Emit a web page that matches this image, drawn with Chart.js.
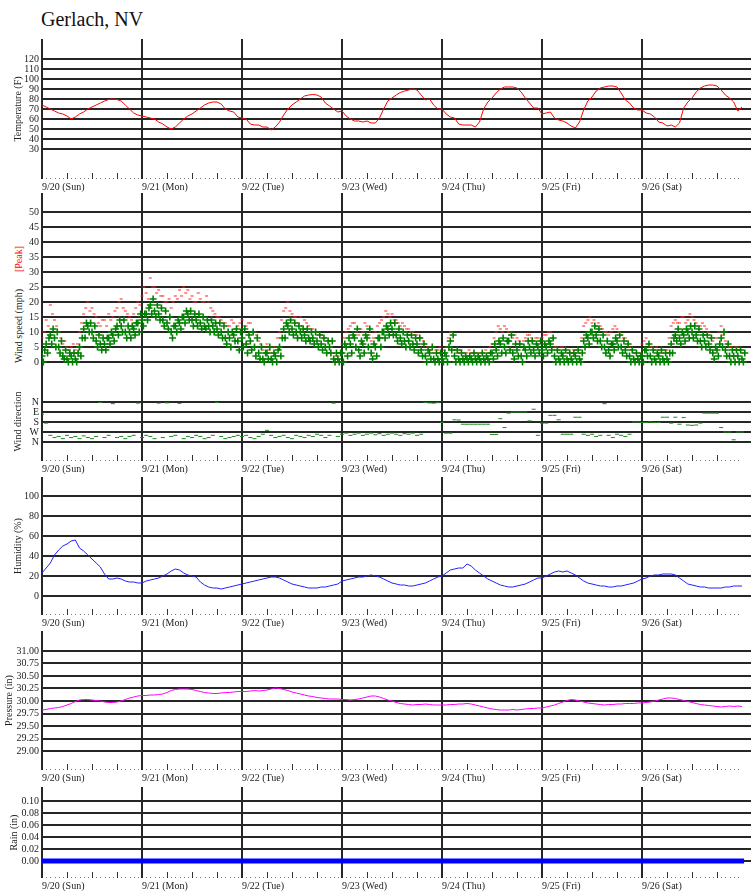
<!DOCTYPE html>
<html><head><meta charset="utf-8">
<script src="https://cdn.jsdelivr.net/npm/chart.js@4/dist/chart.umd.min.js"></script>
<style>
html,body{margin:0;padding:0;background:#fff;}
body{width:751px;height:895px;position:relative;overflow:hidden;font-family:'Liberation Serif','Times New Roman',serif;}
canvas{position:absolute;left:0;}
.title{position:absolute;left:41px;top:9px;font-size:20px;color:#111;line-height:20px;white-space:nowrap;}
.vlab{position:absolute;font-size:10px;white-space:nowrap;transform:translate(-50%,-50%) rotate(-90deg);line-height:12px;color:#222;}
</style></head><body>
<div class="title">Gerlach, NV</div>
<div class="vlab" style="left:19px;top:326px">Wind speed (mph)</div>
<div class="vlab" style="left:19px;top:259px;color:#f00">[Peak]</div>
<canvas id="cTemp"></canvas>
<canvas id="cWind"></canvas>
<canvas id="cDir"></canvas>
<canvas id="cHum"></canvas>
<canvas id="cPres"></canvas>
<canvas id="cRain"></canvas>
<script>
// ---------- data (hourly from 9/20 00:00) ----------
const dayLabels = ['9/20 (Sun)','9/21 (Mon)','9/22 (Tue)','9/23 (Wed)','9/24 (Thu)','9/25 (Fri)','9/26 (Sat)'];
const dayTicks = [0,24,48,72,96,120,144];

const temperature = [
 74,72,70,68,66,65,63,60,62,65,67,70,72,74,76,78,79.5,80,79.5,78,74,70,66,64,
 63,62,61,60,57,55,52,50,52,56,60,63,65,68,71,74,76,77,77,75,70,68,67,62,
 61,60,55,54,54,52,52,49,52,57,64,70,74,77,80,83,84,84.5,84,82,76,73,70,67,
 68,63,60,58,58,57,58,56,56,61,70,78,81,84,86.5,88,89,90,89,84,79,80,74,70,
 70,65,62,61,55,54,54,54,52,57,70,77,81,86,90,92,92,92,91,87,81,76,71,71,
 65,66,67,61,59,58,56,53,51,57,69,78,82,88,91,92,93,93,92,86,79,76,71,69,
 69,66,65,62,57,56,53,54,52,56,71,77,81,87,91,93,94,94,93,89,84,81,77,68,72
];
// sustained wind: hourly reading, plus lowest / highest reading seen within each hour
const windSustained = [
 2,6,9,8,5,2,1,2,1,5,11,12,10,7,6,6,8,9,12,12,10,10,11,13,
 14,16,19,17,16,14,13,10,12,13,15,16,14,14,13,12,12,12,11,10,8,8,9,7,
 8,6,7,5,3,1,3,1,2,5,11,12,11,10,10,9,8,8,7,6,5,5,1,1,
 3,5,6,8,4,6,8,3,5,8,10,11,11,9,8,7,7,6,6,4,2,3,1,1,
 1,2,7,2,1,1,1,1,1,1,1,1,3,4,6,5,7,3,4,2,4,5,4,5,
 4,5,6,2,1,2,1,1,2,1,7,8,10,9,7,5,4,6,7,5,4,2,1,1,
 2,4,2,1,2,1,1,6,9,8,9,10,10,9,7,7,6,3,4,8,4,2,2,2,1
];
const windLow = [
 0,3,6,5,3,1,0,0,0,2,8,10,8,5,4,4,6,7,9,10,8,8,9,10,
 12,14,16,15,14,12,11,8,10,11,13,14,12,12,11,11,10,10,9,8,6,5,7,4,
 5,3,4,2,1,0,1,0,0,2,8,10,9,8,8,7,7,6,5,4,3,3,0,0,
 0,2,3,5,2,3,5,1,2,5,8,9,9,7,6,5,5,4,3,2,0,1,0,0,
 0,0,4,0,0,0,0,0,0,0,0,0,1,2,3,3,4,1,2,0,2,3,2,3,
 2,3,4,0,0,0,0,0,0,0,5,6,8,7,5,3,2,4,5,3,2,0,0,0,
 0,2,0,0,0,0,0,3,7,6,7,8,8,7,5,5,4,1,2,5,2,0,0,0,0
];
const windHigh = [
 4,8,11,10,7,4,3,3,3,8,13,13,12,9,8,8,10,11,14,14,12,12,13,16,
 16,18,21,19,18,17,15,12,14,15,17,17,16,16,15,14,14,13,13,12,10,10,11,10,
 11,9,10,8,5,3,5,3,4,8,13,14,13,12,11,11,10,10,9,8,7,7,3,3,
 6,8,9,11,7,9,11,6,8,10,12,13,13,11,10,9,9,8,8,6,4,5,3,3,
 3,5,9,4,3,2,2,3,2,3,2,3,6,7,8,7,9,6,6,5,7,7,6,7,
 6,7,8,4,3,4,3,3,4,3,9,10,12,11,9,7,6,8,9,7,6,4,3,2,
 4,6,4,3,4,3,3,8,11,10,11,12,12,11,9,9,8,5,6,10,6,4,4,4,3
];
// peak gusts: on the hour and at half past
const windPeak = [
 8,14,19,14,10,6,5,5,4,10,16,20,18,15,12,14,16,15,18,21,17,15,16,20,
 22,23,28,25,24,22,20,18,22,24,25,24,22,20,21,20,20,17,15,14,13,12,13,12,
 14,12,13,10,7,4,6,3,5,10,17,20,16,15,15,14,12,11,10,9,8,7,3,2,
 6,10,12,13,9,10,12,7,10,13,15,16,16,14,12,12,11,10,9,8,6,5,3,4,
 3,5,10,4,3,3,3,3,3,2,3,3,6,10,11,12,10,8,8,6,8,9,7,8,
 8,9,10,5,4,5,3,3,4,3,12,14,13,12,12,10,9,11,11,9,8,5,3,2,
 6,8,5,4,4,3,4,12,14,13,15,14,15,13,12,12,10,7,8,12,7,5,4,5,3
];
const windPeakHalf = [
 10,12,16,12,8,7,4,6,6,13,18,17,16,13,14,12,14,17,20,18,16,14,18,19,
 25,21,25,23,22,20,21,20,21,22,23,21,20,23,20,22,18,16,15,13,12,14,11,13,
 12,13,10,9,6,5,4,5,8,14,18,17,15,13,12,13,11,10,9,8,7,5,2,3,
 8,11,13,10,11,13,9,8,12,14,17,15,14,13,13,11,10,9,8,7,5,4,4,5,
 4,8,7,3,4,3,4,3,3,3,4,5,8,12,10,11,9,9,7,7,9,8,8,7,
 9,10,8,5,5,4,3,4,3,8,13,15,14,13,11,10,10,12,10,8,7,4,3,3,
 7,6,5,5,3,4,8,13,13,15,13,16,14,12,13,11,8,8,10,9,6,5,5,4
];
const windDirection = [
 110,190,300,320,310,330,300,320,310,330,305,320,330,310,5,320,300,15,320,310,330,310,300,10,
 320,300,310,330,10,320,8,310,300,12,330,310,320,300,310,330,320,300,5,310,330,320,310,300,
 310,300,320,330,310,290,255,300,320,310,300,320,330,300,310,320,300,310,290,300,320,300,10,310,
 290,280,300,290,280,300,290,280,295,285,300,290,280,290,300,285,290,280,300,290,5,8,10,6,
 184,280,280,160,162,200,200,200,200,200,200,200,292,292,150,230,100,90,90,90,90,170,65,300,
 190,190,120,120,160,290,290,290,137,137,290,300,290,310,300,15,300,320,290,300,310,290,180,180,
 185,185,180,185,185,137,137,190,137,200,140,207,210,207,190,100,100,100,100,230,270,270,340,270,270
];
const humidity = [
 23,28,33,41,46,50,52,55,56,48,45,41,37,33,29,22,17,17,18,17,15,14,14,13,
 13,15,16,17,18,20,22,25,27,26,23,21,20,19,14,11,9,8,8,7,8,9,10,11,
 12,13,14,15,16,17,18,19,19,18,16,14,12,11,10,9,8,8,8,9,9,10,11,12,
 15,16,17,18,19,19,20,21,20,19,17,15,13,12,11,11,10,10,11,12,13,15,17,19,
 20,23,26,27,28,28,32,30,26,23,20,17,15,13,11,10,9,9,10,11,12,14,16,18,
 18,20,22,24,25,24,25,23,21,18,15,13,12,11,10,10,9,9,10,10,11,12,13,15,
 17,18,20,21,21,22,22,22,21,18,15,12,11,10,9,9,8,8,8,8,9,9,10,10,10
];
const pressure = [
 29.82,29.83,29.85,29.86,29.87,29.89,29.92,29.95,29.99,30.02,30.03,30.03,30.02,30.01,30.00,29.98,29.97,29.97,29.98,30.00,30.03,30.06,30.08,30.10,
 30.11,30.11,30.12,30.12,30.13,30.14,30.17,30.21,30.23,30.24,30.24,30.24,30.23,30.21,30.19,30.17,30.16,30.15,30.15,30.16,30.17,30.17,30.18,30.19,
 30.19,30.19,30.20,30.21,30.20,30.21,30.22,30.24,30.26,30.25,30.23,30.21,30.18,30.16,30.14,30.12,30.10,30.09,30.07,30.06,30.05,30.04,30.04,30.04,
 30.03,30.03,30.02,30.03,30.04,30.06,30.08,30.10,30.10,30.08,30.05,30.02,30.00,29.97,29.95,29.94,29.93,29.92,29.93,29.93,29.94,29.93,29.92,29.92,
 29.92,29.92,29.93,29.93,29.94,29.94,29.95,29.94,29.92,29.90,29.88,29.86,29.84,29.83,29.82,29.82,29.82,29.83,29.82,29.83,29.84,29.85,29.85,29.86,
 29.86,29.88,29.90,29.92,29.95,29.98,30.01,30.03,30.02,30.00,29.98,29.96,29.95,29.94,29.93,29.92,29.93,29.93,29.94,29.94,29.95,29.95,29.95,29.96,
 29.96,29.97,29.98,30.00,30.02,30.04,30.06,30.06,30.05,30.03,30.01,29.99,29.97,29.95,29.93,29.92,29.91,29.90,29.89,29.88,29.89,29.90,29.89,29.90,29.89
];
const rainHours = [0,24,48,72,96,120,144,168.5];
const rain = [0,0,0,0,0,0,0,0];

// tick label lists
const tempTicks = [30,40,50,60,70,80,90,100,110,120];
const windTicks = [0,5,10,15,20,25,30,35,40,45,50];
const dirTicks = [0,90,180,270,360];
const dirLabels = ['N','E','S','W','N'];
const humTicks = [0,10,20,30,40,50,60,70,80,90,100];
const presTicks = [29.00,29.25,29.50,29.75,30.00,30.25,30.50,30.75,31.00];
const rainTicks = [0,0.02,0.04,0.06,0.08,0.10];

// ---------- drawing ----------
const FONT = "'Liberation Serif','Times New Roman',serif";
const GRID = '#262626';
const TEXT = '#222';
const X_MAX = 170.16;

const hourTicksPlugin = {
  id: 'hourTicks',
  afterDatasetsDraw(chart, args, opts) {
    if (!opts.display) return;
    const xs = chart.scales.x, yb = chart.chartArea.bottom, ctx = chart.ctx;
    ctx.save();
    for (let h = 1; h < 168; h++) {
      if (h % 24 === 0) continue;
      const px = Math.round(xs.getPixelForValue(h));
      if (h % 6 === 0) { ctx.fillStyle = '#333'; ctx.fillRect(px, yb - 6, 1, 6); }
      else { ctx.fillStyle = '#777'; ctx.fillRect(px, yb - 1, 1, 1); }
    }
    ctx.restore();
  }
};

const series = (arr, off) => arr.map((v, i) => ({x: i + (off || 0), y: v}));

function makeChart(id, T, B, showLabels, y, datasets) {
  const PADT = 12, LABH = 16;
  const cv = document.getElementById(id);
  const h = PADT + (B - T) + (showLabels ? LABH : 12);
  cv.width = 751; cv.height = h;
  cv.style.width = '751px'; cv.style.height = h + 'px'; cv.style.top = (T - PADT) + 'px';
  return new Chart(cv, {
    type: 'line',
    data: {datasets},
    options: {
      responsive: false, animation: false, devicePixelRatio: 1,
      layout: {autoPadding: false, padding: {top: PADT, bottom: showLabels ? 0 : 12, left: 0, right: 0}},
      plugins: {legend: {display: false}, tooltip: {enabled: false}, hourTicks: {display: showLabels}},
      scales: {
        x: {
          type: 'linear', min: 0, max: X_MAX,
          afterBuildTicks: s => { s.ticks = dayTicks.map(v => ({value: v})); },
          afterFit: s => { s.height = showLabels ? LABH : 0; },
          grid: {color: GRID, lineWidth: 2, drawTicks: false},
          border: {display: false},
          ticks: {display: showLabels, align: 'start', maxRotation: 0, autoSkip: false, padding: 2,
                  font: {family: FONT, size: 10}, color: TEXT, callback: (v, i) => dayLabels[i]}
        },
        y: {
          type: 'linear', min: y.min, max: y.max, reverse: !!y.reverse,
          afterBuildTicks: s => { s.ticks = y.ticks.map(v => ({value: v})); },
          afterFit: s => { s.width = 42; },
          grid: {color: GRID, lineWidth: 2, drawTicks: false},
          border: {display: false},
          ticks: {padding: 3, font: {family: FONT, size: 10}, color: TEXT, callback: y.fmt},
          title: {display: !!y.title, text: y.title || '', font: {family: FONT, size: 10}, color: TEXT,
                  padding: {top: y.tpad || 0, bottom: 0}}
        }
      }
    },
    plugins: [hourTicksPlugin]
  });
}

const lineDs = (arr, color, w) => ({data: series(arr), borderColor: color, borderWidth: w, pointRadius: 0, fill: false, tension: 0});
const crossDs = (arr, off) => ({data: series(arr, off), showLine: false, pointStyle: 'cross', pointRadius: 3.5, pointBorderWidth: 1.6,
  borderColor: '#008000', pointBorderColor: '#008000', backgroundColor: '#008000', order: 1});
const peakDs = (arr, off) => ({data: series(arr, off), showLine: false, pointStyle: 'line', pointRadius: 1.5, pointBorderWidth: 1,
  borderColor: '#ff2020', pointBorderColor: '#ff2020', order: 2});

makeChart('cTemp', 39, 179, true,
  {min: 0, max: 140, ticks: tempTicks, fmt: v => String(v), title: 'Temperature (F)', tpad: 12},
  [lineDs(temperature, '#ff0000', 1)]);

makeChart('cWind', 193, 382, false,
  {min: -6.667, max: 56.333, ticks: windTicks, fmt: v => String(v)},
  [crossDs(windSustained, 0), crossDs(windLow, 0.33), crossDs(windHigh, 0.67),
   peakDs(windPeak, 0), peakDs(windPeakHalf, 0.5)]);

makeChart('cDir', 382, 461, true,
  {min: -180, max: 531, reverse: true, ticks: dirTicks, fmt: (v, i) => dirLabels[i], title: 'Wind direction', tpad: 12.5},
  [{data: series(windDirection), showLine: false, pointStyle: 'line', pointRadius: 2, pointBorderWidth: 1,
    borderColor: '#1a8c1a', pointBorderColor: '#1a8c1a'}]);

makeChart('cHum', 477, 615, true,
  {min: -19, max: 119, ticks: humTicks, fmt: v => String(v), title: 'Humidity (%)', tpad: 12.5},
  [lineDs(humidity, '#2020ff', 1)]);

makeChart('cPres', 631, 770, true,
  {min: 28.62, max: 31.40, ticks: presTicks, fmt: v => Number(v).toFixed(2), title: 'Pressure (in)', tpad: 3},
  [lineDs(pressure, '#ff00ff', 1)]);

makeChart('cRain', 787, 878, true,
  {min: -0.0283, max: 0.1233, ticks: rainTicks, fmt: v => Number(v).toFixed(2), title: 'Rain (in)', tpad: 8.5},
  [{data: rainHours.map((t, i) => ({x: t, y: rain[i]})), borderColor: '#0000ff', borderWidth: 5, pointRadius: 0, fill: false}]);
</script>
</body></html>
